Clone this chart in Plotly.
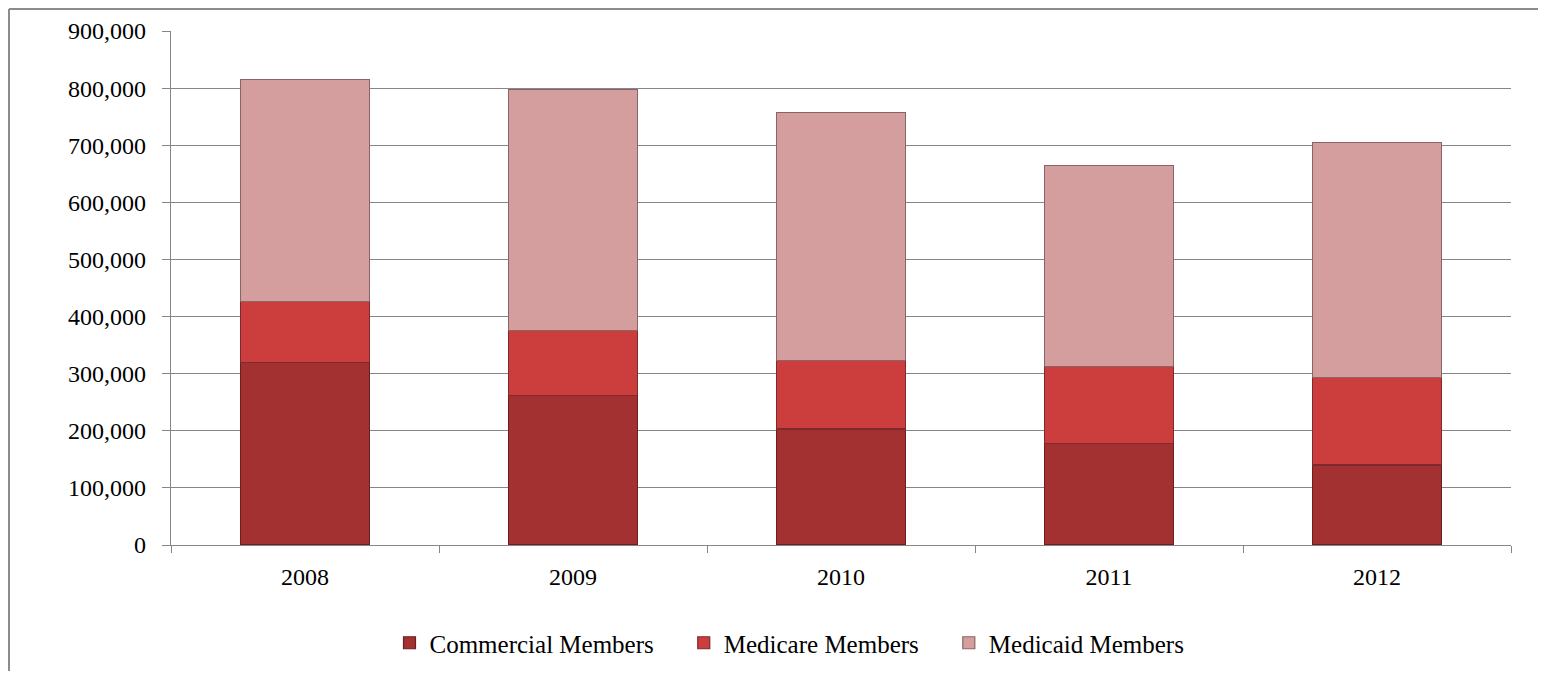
import plotly.graph_objects as go

years = ["2008", "2009", "2010", "2011", "2012"]
commercial = [319000, 262000, 203000, 178000, 140000]
medicare = [108000, 113000, 120000, 135000, 153000]
medicaid = [388000, 422000, 434000, 351000, 412000]

series_names = ["Commercial Members", "Medicare Members", "Medicaid Members"]
series_colors = ["#A33131", "#CB3E3D", "#D59E9E"]
line_colors = ["#6E1E1E", "#7E2A2A", "#8A6464"]

FONT = "Liberation Serif, Times New Roman, serif"
PAD = "\u00a0\u00a0\u00a0\u00a0"

W, H = 1530, 663
L, R, T, B = 163, 27, 23, 126
PW, PH = W - L - R, H - T - B

fig = go.Figure()
for name, vals, col, lc in zip(series_names, [commercial, medicare, medicaid], series_colors, line_colors):
    fig.add_trace(go.Bar(
        x=years, y=vals, name=name + PAD,
        marker=dict(color=col, line=dict(color=lc, width=1.2)),
    ))

fig.update_layout(
    barmode="stack",
    bargap=0.52,
    width=W, height=H,
    margin=dict(l=L, r=R, t=T, b=B, autoexpand=False),
    paper_bgcolor="white", plot_bgcolor="white",
    font=dict(family=FONT, size=24, color="#000000"),
    showlegend=True,
    legend=dict(
        orientation="h", xref="container", yref="container",
        x=794 / W, xanchor="center", y=(H - 635) / H, yanchor="middle",
        font=dict(family=FONT, size=25, color="#000000"),
        itemwidth=30, tracegroupgap=0, traceorder="normal",
    ),
)
fig.update_yaxes(
    range=[0, 900000], dtick=100000, tickformat=",",
    showgrid=True, gridcolor="#868686", gridwidth=1.3,
    showline=True, linecolor="#868686", linewidth=1.3,
    ticks="outside", ticklen=8, tickcolor="#868686", tickwidth=1.3,
    ticklabelstandoff=11,
    zeroline=False,
)
fig.update_xaxes(
    type="category",
    showline=True, linecolor="#868686", linewidth=1.3,
    ticks="outside", ticklen=7, tickcolor="#868686", tickwidth=1.3,
    tickson="boundaries", showgrid=False,
    ticklabelstandoff=10,
)
# chart border (only left and top edges fall inside the view)
bx = (1 - L) / PW
by = (H - B - 1) / PH
fig.add_shape(type="line", xref="paper", yref="paper",
              x0=bx, x1=bx, y0=-(B + 5) / PH, y1=by,
              line=dict(color="#8C8C8C", width=2), layer="below")
fig.add_shape(type="line", xref="paper", yref="paper",
              x0=bx, x1=(W - L + 5) / PW, y0=by, y1=by,
              line=dict(color="#8C8C8C", width=2), layer="below")

fig.write_html("out.html")
